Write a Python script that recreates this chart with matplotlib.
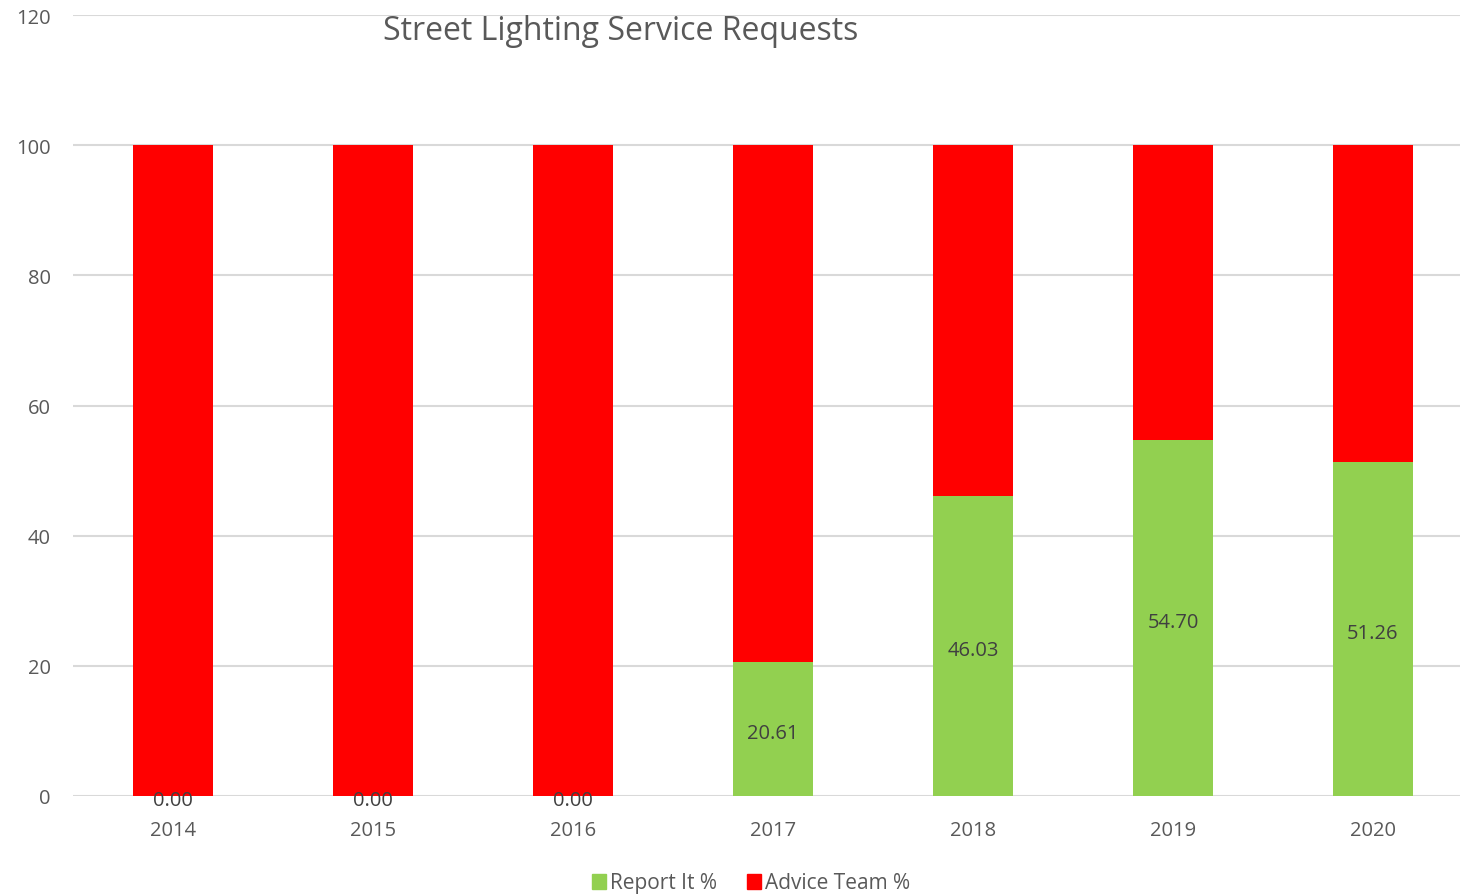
import matplotlib
matplotlib.use("Agg")
import matplotlib.pyplot as plt
from matplotlib.patches import Patch

years = ["2014", "2015", "2016", "2017", "2018", "2019", "2020"]
report_it = [0.00, 0.00, 0.00, 20.61, 46.03, 54.70, 51.26]
advice_team = [100 - v for v in report_it]
y_ticks = [0, 20, 40, 60, 80, 100, 120]

plt.rcParams['font.family'] = ['Open Sans', 'DejaVu Sans']

W, H = 1460, 895
fig = plt.figure(figsize=(W / 100, H / 100), dpi=100)
ax = fig.add_axes([73 / W, 1 - 797 / H, (1473 - 73) / W, (797 - 16) / H])

x = list(range(len(years)))
green = "#92d050"
red = "#ff0000"
ax.bar(x, report_it, width=0.4, color=green, zorder=3)
ax.bar(x, advice_team, width=0.4, bottom=report_it, color=red, zorder=3)

for xi, v in zip(x, report_it):
    ax.annotate(f"{v:.2f}", (xi, v / 2), xytext=(0, -3), textcoords="offset points",
                ha="center", va="center", fontsize=14.5, color="#404040", zorder=4)

ax.set_xlim(-0.5, 6.5)
ax.set_ylim(0, 120)
ax.set_yticks(y_ticks)
ax.set_xticks(x)
ax.set_xticklabels(years)
ax.tick_params(axis="both", length=0, labelsize=14.5, colors="#595959")
ax.tick_params(axis="y", pad=16)
ax.tick_params(axis="x", pad=17.5)
ax.grid(axis="y", color="#d9d9d9", linewidth=1.5, zorder=0)
for s in ax.spines.values():
    s.set_visible(False)

fig.text(621 / W, 1 - 32 / H, "Street Lighting Service Requests", ha="center",
         va="center", fontsize=23, color="#595959")

handles = [Patch(color=green, label="Report It %"), Patch(color=red, label="Advice Team %")]
fig.legend(handles=handles, loc="center", bbox_to_anchor=(751 / W, 1 - 884 / H), ncol=2,
           frameon=False, fontsize=15, labelcolor="#595959", handlelength=0.7,
           handleheight=0.7, handletextpad=0.2, columnspacing=1.4)

fig.savefig("out.png", dpi=100)
